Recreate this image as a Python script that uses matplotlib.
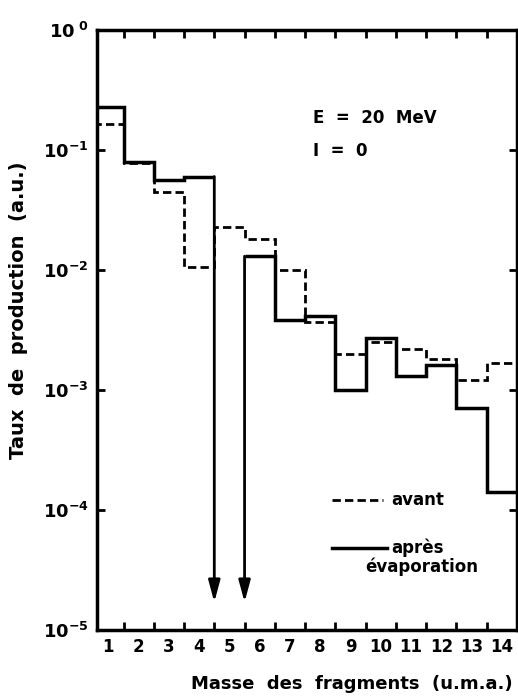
import numpy as np
from matplotlib import pyplot as plt

plt.rcParams['font.family'] = 'DejaVu Sans'
plt.rcParams['font.weight'] = 'bold'
plt.rcParams['axes.labelweight'] = 'bold'
plt.rcParams['mathtext.default'] = 'bf'

# mass of fragment (u.m.a.) and production rate (a.u.)
masse = [1, 2, 3, 4, 5, 6, 7, 8, 9, 10, 11, 12, 13, 14]
avant = [0.165, 0.078, 0.045, 0.0106, 0.023, 0.018, 0.0100, 0.0037,
         0.0020, 0.0025, 0.0022, 0.0018, 0.0012, 0.00167]
# après évaporation: mass 5 has no yield (arrows)
apres = [0.23, 0.079, 0.056, 0.060, None, 0.013, 0.0038, 0.0041,
         0.0010, 0.0027, 0.0013, 0.0016, 0.0007, 0.00014]
arrow_masses = [4.5, 5.5]
arrow_tip = 1.7e-5

fig = plt.figure(figsize=(5.18, 6.96), dpi=100)
ax = fig.add_axes([0.187, 0.095, 0.811, 0.862])

edges = np.array(masse + [15]) - 0.5
ax.stairs(avant, edges, baseline=None, color='black', lw=2.0,
          linestyle=(0, (3, 1.5)))
# solid histogram split around the missing mass 5
ax.stairs(apres[:4], edges[:5], baseline=None, color='black', lw=2.5)
ax.stairs(apres[5:], edges[5:], baseline=None, color='black', lw=2.5)

# arrows going down from the open edges
starts = [apres[3], apres[5]]
for xa, y0 in zip(arrow_masses, starts):
    ax.annotate('', xy=(xa, arrow_tip), xytext=(xa, y0),
                arrowprops=dict(arrowstyle='-|>,head_width=0.35,head_length=1.3',
                                color='black', lw=2.0, shrinkA=0, shrinkB=0))

ax.set_yscale('log')
ax.set_ylim(1e-5, 1.0)
ax.set_xlim(0.62, 14.5)

ax.set_yticks([1e0, 1e-1, 1e-2, 1e-3, 1e-4, 1e-5])
ax.set_yticklabels([r'10$^{\ 0}$', r'10$^{-1}$', r'10$^{-2}$', r'10$^{-3}$',
                    r'10$^{-4}$', r'10$^{-5}$'], fontsize=13)
ax.yaxis.set_minor_locator(plt.NullLocator())
ax.set_xticks(np.arange(1.5, 14.5, 1.0))
ax.set_xticklabels([])
ax.set_xticks(masse, minor=True)
ax.set_xticklabels([str(m) for m in masse], minor=True, fontsize=12)
ax.tick_params(axis='x', which='minor', length=0, pad=6)
ax.tick_params(axis='y', pad=6)
ax.tick_params(which='major', direction='in', length=6, width=2,
               top=True, right=True)
for s in ax.spines.values():
    s.set_linewidth(2.5)

ax.set_xlabel('Masse  des  fragments  (u.m.a.)', fontsize=13)
ax.xaxis.set_label_coords(0.607, -0.075)
ax.set_ylabel('Taux  de  production  (a.u.)', fontsize=14)
ax.yaxis.set_label_coords(-0.165, 0.533)

ax.text(0.515, 0.845, 'E  =  20  MeV', transform=ax.transAxes, fontsize=12)
ax.text(0.515, 0.790, 'I  =  0', transform=ax.transAxes, fontsize=12)

# legend drawn by hand like the original
ax.plot([0.56, 0.68], [0.217, 0.217], transform=ax.transAxes, color='black',
        lw=2.0, linestyle=(0, (3, 1.5)))
ax.text(0.70, 0.217, 'avant', transform=ax.transAxes, fontsize=12, va='center')
ax.plot([0.56, 0.69], [0.137, 0.137], transform=ax.transAxes, color='black',
        lw=2.5)
ax.text(0.70, 0.137, 'après', transform=ax.transAxes, fontsize=12, va='center')
ax.text(0.64, 0.105, 'évaporation', transform=ax.transAxes, fontsize=12,
        va='center')

fig.savefig('out.png', dpi=100)
